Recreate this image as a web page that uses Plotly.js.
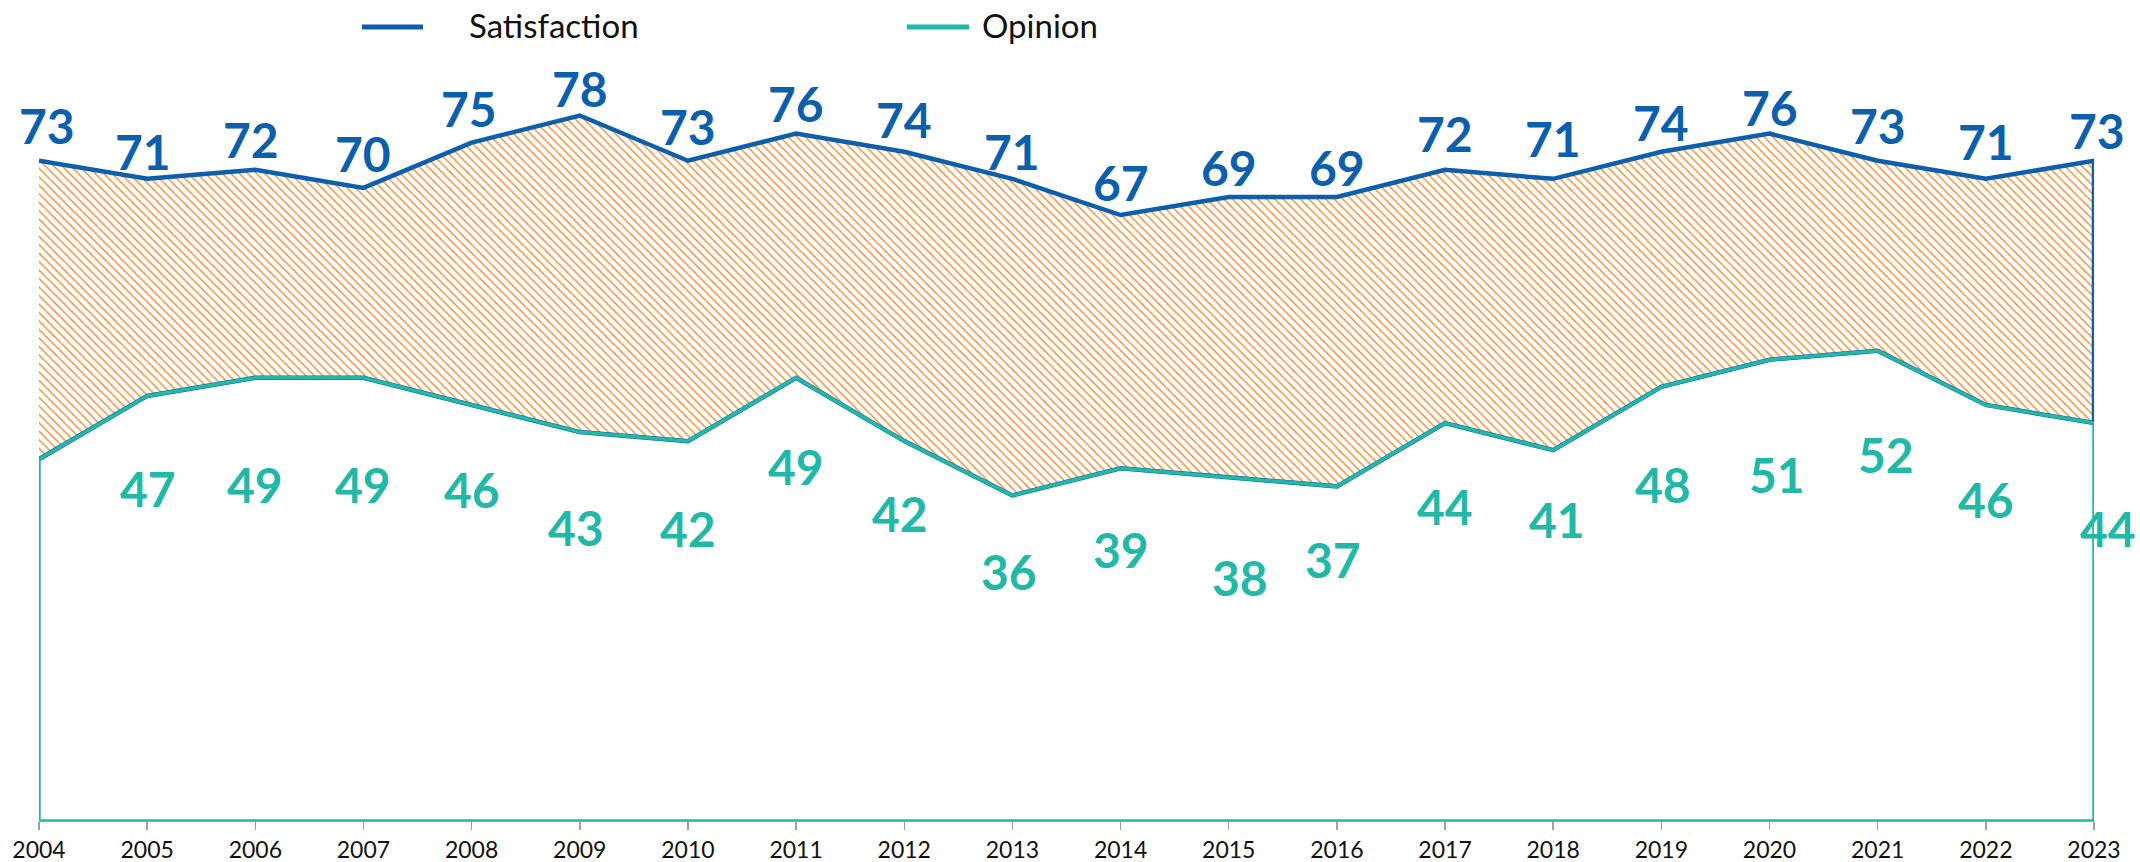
<!DOCTYPE html>
<html>
<head>
<meta charset="utf-8">
<script src="https://cdn.plot.ly/plotly-3.0.1.min.js"></script>
<style>
  html, body { margin: 0; padding: 0; background: #ffffff; }
  #chart { width: 2140px; height: 862px; }
</style>
</head>
<body>
<div id="chart"></div>
<script>
// ---- data ----
const years = [2004, 2005, 2006, 2007, 2008, 2009, 2010, 2011, 2012, 2013,
               2014, 2015, 2016, 2017, 2018, 2019, 2020, 2021, 2022, 2023];
const satisfaction = [73, 71, 72, 70, 75, 78, 73, 76, 74, 71,
                      67, 69, 69, 72, 71, 74, 76, 73, 71, 73];
const opinion = [40, 47, 49, 49, 46, 43, 42, 49, 42, 36,
                 39, 38, 37, 44, 41, 48, 51, 52, 46, 44];
const seriesNames = ['Satisfaction', 'Opinion'];

// ---- styles ----
const BLUE = '#0B5FAD';
const TEAL = '#22B8A8';
const ORANGE = '#F5821F';
const satShiftY = [35, 27, 30, 34, 34, 27, 34, 30, 32, 27, 33, 29, 29, 36, 40, 29, 26, 35, 37, 30];
const satShiftX = [8, -4, -4, 0, -3, 0, 0, 0, 0, 0, 0, 0, 0, 0, 0, 0, 0, 0, 0, 3];
const opShiftY = [0, -93, -107, -107, -85, -95, -87, -89, -72, -76, -81, -100, -73, -83, -69, -98, -115, -104, -95, -105];
const opShiftX = [0, 1, 0, 0, 0, -4, 0, 0, -4, -3, 0, 11, -4, 0, 4, 2, 7, 8, 0, 14];
const opShow = [false, true, true, true, true, true, true, true, true, true,
                true, true, true, true, true, true, true, true, true, true];

// band between opinion and satisfaction (closed polygon)
const bandX = years.concat(years.slice().reverse());
const bandY = satisfaction.concat(opinion.slice().reverse());
// opinion area down to zero (closed polygon)
const first = years[0], last = years[years.length - 1];
const opX = years.concat([last, first, first]);
const opY = opinion.concat([0, 0, opinion[0]]);

const traces = [
  {
    type: 'scatter', mode: 'lines', name: seriesNames[0],
    x: bandX, y: bandY, fill: 'toself',
    fillcolor: '#ffffff',
    fillpattern: { shape: '\\', fgcolor: ORANGE, bgcolor: '#ffffff', size: 6, solidity: 0.22 },
    line: { color: BLUE, width: 4.5 },
    hoverinfo: 'skip', showlegend: false
  },
  {
    type: 'scatter', mode: 'lines', name: seriesNames[1],
    x: opX, y: opY, fill: 'toself', fillcolor: 'rgba(255,255,255,0)',
    line: { color: TEAL, width: 3.5 },
    hoverinfo: 'skip', showlegend: false
  }
];

const annotations = [];
years.forEach((yr, i) => {
  annotations.push({
    x: yr, y: satisfaction[i], xref: 'x', yref: 'y',
    text: String(satisfaction[i]), showarrow: false,
    xanchor: 'center', yanchor: 'middle',
    xshift: satShiftX[i], yshift: satShiftY[i],
    font: { family: 'Lato, Roboto, sans-serif', size: 48, color: BLUE, weight: 'bold' }
  });
  if (opShow[i]) {
    annotations.push({
      x: yr, y: opinion[i], xref: 'x', yref: 'y',
      text: String(opinion[i]), showarrow: false,
      xanchor: 'center', yanchor: 'middle',
      xshift: opShiftX[i], yshift: opShiftY[i],
      font: { family: 'Lato, Roboto, sans-serif', size: 48, color: TEAL, weight: 'bold' }
    });
  }
});

// manual legend
const legendItems = [
  { name: seriesNames[0], color: BLUE, x0: 362, x1: 423, tx: 467 },
  { name: seriesNames[1], color: TEAL, x0: 907, x1: 969, tx: 980 }
];
const shapes = [];
legendItems.forEach(it => {
  shapes.push({
    type: 'line', xref: 'paper', yref: 'paper',
    x0: (it.x0 - 39) / 2055, x1: (it.x1 - 39) / 2055,
    y0: (821 - 27) / 814, y1: (821 - 27) / 814,
    line: { color: it.color, width: 5 }
  });
  annotations.push({
    xref: 'paper', yref: 'paper',
    x: (it.tx - 39) / 2055, y: (821 - 25) / 814,
    xanchor: 'left', yanchor: 'middle', showarrow: false,
    text: it.name,
    font: { family: 'Lato, sans-serif', size: 33, color: '#111111' }
  });
});

const layout = {
  width: 2140, height: 862,
  margin: { l: 39, r: 46, t: 7, b: 41, pad: 0 },
  paper_bgcolor: '#ffffff', plot_bgcolor: '#ffffff',
  showlegend: false,
  xaxis: {
    range: [first, last], tickmode: 'array', tickvals: years,
    ticktext: years.map(String),
    ticks: 'outside', ticklen: 8, tickcolor: '#A0A0A0', tickwidth: 1.5,
    showgrid: false, zeroline: false,
    showline: true, linecolor: '#A0A0A0', linewidth: 1,
    tickfont: { family: 'Lato, sans-serif', size: 23, color: '#111111' },
    fixedrange: true
  },
  yaxis: {
    range: [0, 90], visible: false, showgrid: false, zeroline: false,
    fixedrange: true
  },
  annotations: annotations,
  shapes: shapes
};

Plotly.newPlot('chart', traces, layout, { displayModeBar: false, staticPlot: true });
</script>
</body>
</html>
